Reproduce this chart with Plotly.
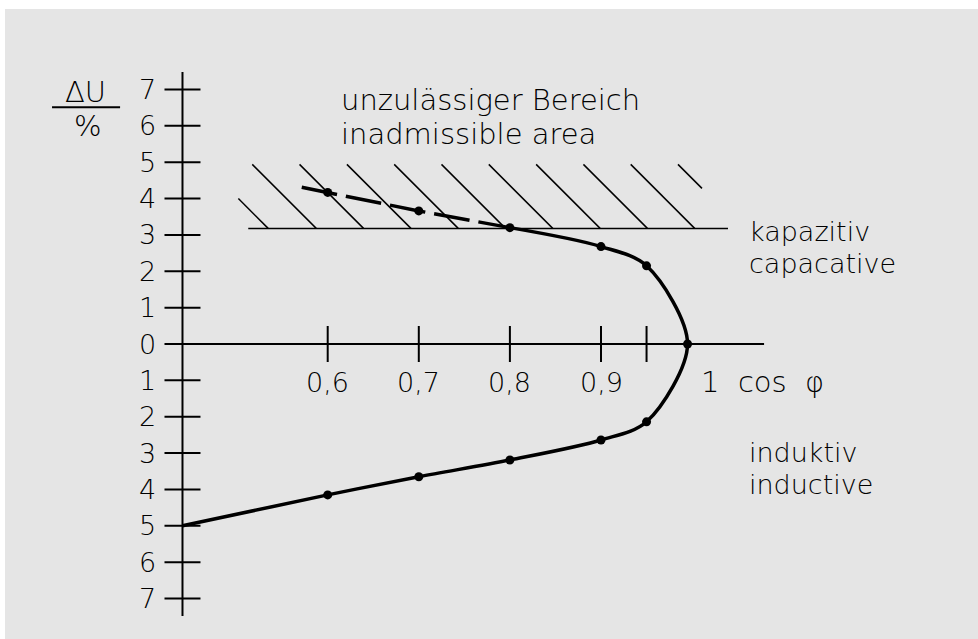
import plotly.graph_objects as go

# ---------------- data ----------------
cos_phi = [0.6, 0.7, 0.8, 0.9, 0.95]
du_capacitive = [4.17, 3.66, 3.20, 2.68, 2.15]      # upper branch (kapazitiv)
du_inductive = [-4.15, -3.65, -3.19, -2.64, -2.14]  # lower branch (induktiv)
apex_cos_phi = 0.995
apex_du = 0.0
dash_start_cos_phi = 0.5715
dash_start_du = 4.31
axis_origin_cos_phi = 0.4406
axis_end_du = -5.0

x_tick_vals = [0.6, 0.7, 0.8, 0.9, 0.95]
x_tick_label_vals = [0.6, 0.7, 0.8, 0.9]
x_tick_labels = ["0,6", "0,7", "0,8", "0,9"]
y_tick_vals = [-7, -6, -5, -4, -3, -2, -1, 0, 1, 2, 3, 4, 5, 6, 7]
y_tick_labels = ["7", "6", "5", "4", "3", "2", "1", "0", "1", "2", "3", "4", "5", "6", "7"]

limit_du = 3.18
limit_x_from = 0.5128
limit_x_to = 1.0394
hatch_x_start = [0.5019, 0.5172, 0.5691, 0.6211, 0.6730, 0.7249, 0.7768, 0.8288, 0.8807, 0.9326, 0.9845]
hatch_y_start = [4.00, 4.94, 4.94, 4.94, 4.94, 4.94, 4.94, 4.94, 4.94, 4.94, 4.94]
hatch_y_end = [3.18, 3.18, 3.18, 3.18, 3.18, 3.18, 3.18, 3.18, 3.18, 3.18, 4.28]

# ---------------- layout scales ----------------
W, H = 978, 639
ML, MT = 5, 9
PX_PER_X = 911.0      # pixels per 1.0 of cos phi
PX_PER_Y = 36.36      # pixels per 1 % of delta U
X0_PX = 327.7         # pixel of cos phi = 0.6
Y0_PX = 344.0         # pixel of delta U = 0
x_min = 0.6 - (X0_PX - ML) / PX_PER_X
x_max = x_min + (W - ML) / PX_PER_X
y_max = (Y0_PX - MT) / PX_PER_Y
y_min = (Y0_PX - H) / PX_PER_Y

tick_half_x = 18 / PX_PER_X
tick_half_y = 18 / PX_PER_Y
slope = PX_PER_Y / PX_PER_X   # 45 degree hatch in pixel space

NUM_FONT = dict(family="DejaVu Sans, Verdana, sans-serif", size=27, color="black", weight=200)
TXT_FONT = dict(family="DejaVu Sans, Verdana, sans-serif", size=29, color="black", weight=200)
SIDE_FONT = dict(family="DejaVu Sans, Verdana, sans-serif", size=27, color="black", weight=200)

fig = go.Figure()

# axes with crossing ticks
ax_x, ax_y = [], []
ax_x += [axis_origin_cos_phi, axis_origin_cos_phi, None]
ax_y += [-7.48, 7.48, None]
ax_x += [axis_origin_cos_phi, 1.079, None]
ax_y += [0, 0, None]
for v in y_tick_vals:
    ax_x += [axis_origin_cos_phi - tick_half_x, axis_origin_cos_phi + tick_half_x, None]
    ax_y += [v, v, None]
for v in x_tick_vals:
    ax_x += [v, v, None]
    ax_y += [-tick_half_y, tick_half_y, None]
# fraction bar of the y-axis title
ax_x += [0.2974, 0.3721, None]
ax_y += [6.51, 6.51, None]
fig.add_trace(go.Scatter(x=ax_x, y=ax_y, mode="lines",
                         line=dict(color="black", width=2), hoverinfo="skip"))

# hatched inadmissible area
hx, hy = [limit_x_from, limit_x_to, None], [limit_du, limit_du, None]
for xs, ys, ye in zip(hatch_x_start, hatch_y_start, hatch_y_end):
    hx += [xs, xs + (ys - ye) * slope, None]
    hy += [ys, ye, None]
fig.add_trace(go.Scatter(x=hx, y=hy, mode="lines",
                         line=dict(color="black", width=1.5), hoverinfo="skip"))

# dashed part of curve (inadmissible)
fig.add_trace(go.Scatter(
    x=[dash_start_cos_phi] + cos_phi[:3],
    y=[dash_start_du] + du_capacitive[:3],
    mode="lines", line=dict(color="black", width=3.5, dash="36px,9px"),
    hoverinfo="skip"))

# solid curve
sx = cos_phi[2:] + [apex_cos_phi] + cos_phi[::-1] + [axis_origin_cos_phi]
sy = du_capacitive[2:] + [apex_du] + du_inductive[::-1] + [axis_end_du]
fig.add_trace(go.Scatter(x=sx, y=sy, mode="lines",
                         line=dict(color="black", width=3.5, shape="spline", smoothing=0.9),
                         hoverinfo="skip"))

# points
fig.add_trace(go.Scatter(
    x=cos_phi + [apex_cos_phi] + cos_phi,
    y=du_capacitive + [apex_du] + du_inductive,
    mode="markers", marker=dict(color="black", size=9), hoverinfo="skip"))

ann = []
for v, t in zip(y_tick_vals, y_tick_labels):
    ann.append(dict(x=0.4126, y=v, text=t, xanchor="right", yanchor="middle", font=NUM_FONT))
for v, t in zip(x_tick_label_vals, x_tick_labels):
    ann.append(dict(x=v, y=-1.058, text=t, xanchor="center", yanchor="middle", font=NUM_FONT))
nb = "\u00a0"
ann.append(dict(x=1.0087, y=-1.053, text="1" + nb * 2 + "cos" + nb * 2 + "φ",
                xanchor="left", yanchor="middle", font=TXT_FONT))
ann.append(dict(x=0.3341, y=6.944, text="ΔU", xanchor="center", yanchor="middle", font=TXT_FONT))
ann.append(dict(x=0.3369, y=5.996, text="%", xanchor="center", yanchor="middle", font=TXT_FONT))
ann.append(dict(x=0.6135, y=6.711, text="unzulässiger Bereich", xanchor="left", yanchor="middle", font=TXT_FONT))
ann.append(dict(x=0.6135, y=5.775, text="inadmissible area", xanchor="left", yanchor="middle", font=TXT_FONT))
ann.append(dict(x=1.0613, y=3.10, text="kapazitiv", xanchor="left", yanchor="middle", font=SIDE_FONT))
ann.append(dict(x=1.0613, y=2.22, text="capacative", xanchor="left", yanchor="middle", font=SIDE_FONT))
ann.append(dict(x=1.0613, y=-2.98, text="induktiv", xanchor="left", yanchor="middle", font=SIDE_FONT))
ann.append(dict(x=1.0613, y=-3.86, text="inductive", xanchor="left", yanchor="middle", font=SIDE_FONT))
for a in ann:
    a.update(xref="x", yref="y", showarrow=False, borderpad=0)

fig.update_layout(
    width=W, height=H, autosize=False,
    margin=dict(l=ML, t=MT, r=0, b=0, pad=0),
    paper_bgcolor="white", plot_bgcolor="#e5e5e5",
    showlegend=False,
    xaxis=dict(range=[x_min, x_max], visible=False, fixedrange=True),
    yaxis=dict(range=[y_min, y_max], visible=False, fixedrange=True),
    annotations=ann,
)

fig.write_html("out.html", config={"displayModeBar": False},
               post_script="document.body.style.margin='0';document.body.style.padding='0';")
